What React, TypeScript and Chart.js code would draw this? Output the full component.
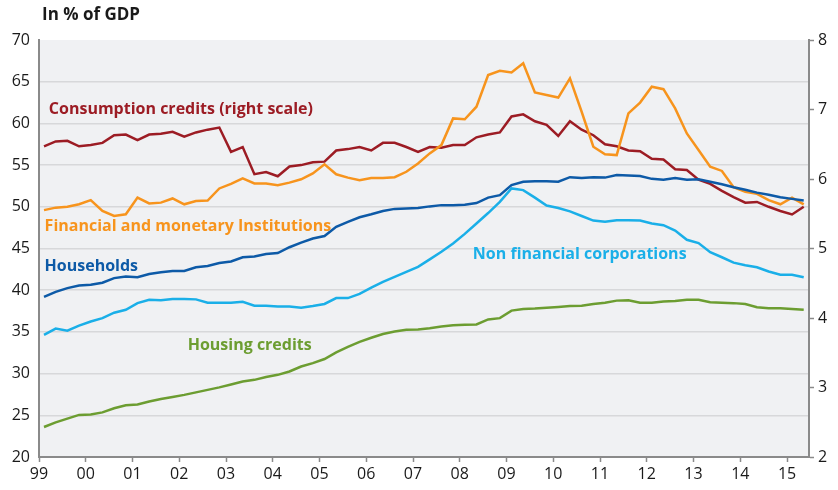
import React, { useEffect, useRef } from "react";
import { Chart, registerables } from "chart.js";

Chart.register(...registerables);

// Quarterly observations, 1999Q1 .. 2015Q2
const firstYear = 1999;
const quarterCount = 66;
const quarterLabels: string[] = [];
for (let i = 0; i < quarterCount; i++) {
  quarterLabels.push(`${firstYear + Math.floor(i / 4)}Q${(i % 4) + 1}`);
}
const quarterX = quarterLabels.map((q) => {
  const y = parseInt(q.slice(0, 4), 10);
  const k = parseInt(q.slice(5), 10) - 1;
  return y + 0.107 + 0.25 * k;
});

const yearTicks = ["99", "00", "01", "02", "03", "04", "05", "06", "07", "08", "09", "10", "11", "12", "13", "14", "15"];

// Right scale
const consumptionCredits = [
  6.47, 6.54, 6.55, 6.47, 6.49, 6.52, 6.63, 6.64, 6.56, 6.64, 6.65, 6.68, 6.61, 6.67, 6.71, 6.74,
  6.39, 6.46, 6.07, 6.10, 6.04, 6.18, 6.20, 6.24, 6.25, 6.41, 6.43, 6.46, 6.41, 6.52, 6.52, 6.46,
  6.39, 6.46, 6.45, 6.49, 6.49, 6.60, 6.64, 6.67, 6.90, 6.93, 6.83, 6.78, 6.62, 6.83, 6.71, 6.63,
  6.50, 6.47, 6.41, 6.40, 6.29, 6.28, 6.14, 6.13, 5.99, 5.93, 5.83, 5.74, 5.66, 5.67, 5.60, 5.54,
  5.49, 5.60,
];

// Left scale
const financialInstitutions = [
  49.6, 49.9, 50.0, 50.3, 50.8, 49.5, 48.9, 49.1, 51.1, 50.4, 50.5, 51.0, 50.3, 50.7, 50.75, 52.2,
  52.75, 53.4, 52.8, 52.8, 52.6, 52.9, 53.3, 54.0, 55.1, 53.9, 53.5, 53.2, 53.45, 53.45, 53.55, 54.2,
  55.2, 56.4, 57.4, 60.6, 60.5, 62.0, 65.8, 66.3, 66.1, 67.2, 63.7, 63.4, 63.1, 65.4, 61.4, 57.2,
  56.3, 56.2, 61.2, 62.5, 64.4, 64.1, 61.8, 58.8, 56.8, 54.8, 54.3, 52.35, 51.8, 51.55, 50.8, 50.3,
  51.1, 50.3,
];

const households = [
  39.2, 39.8, 40.25, 40.55, 40.65, 40.9, 41.45, 41.65, 41.55, 41.95, 42.15, 42.3, 42.3, 42.75, 42.9, 43.25,
  43.45, 43.95, 44.05, 44.35, 44.45, 45.15, 45.7, 46.2, 46.5, 47.6, 48.2, 48.75, 49.1, 49.5, 49.75, 49.8,
  49.85, 50.05, 50.2, 50.2, 50.25, 50.45, 51.1, 51.4, 52.6, 53.0, 53.05, 53.05, 53.0, 53.55, 53.45, 53.55,
  53.5, 53.8, 53.75, 53.7, 53.35, 53.25, 53.45, 53.25, 53.3, 53.0, 52.7, 52.35, 52.05, 51.7, 51.45, 51.15,
  50.95, 50.75,
];

const nonFinancialCorporations = [
  34.65, 35.4, 35.15, 35.75, 36.25, 36.65, 37.3, 37.65, 38.45, 38.85, 38.8, 38.95, 38.95, 38.9, 38.5, 38.5,
  38.5, 38.6, 38.15, 38.15, 38.05, 38.05, 37.9, 38.1, 38.35, 39.05, 39.05, 39.55, 40.3, 41.0, 41.6, 42.2,
  42.8, 43.7, 44.6, 45.6, 46.75, 48.0, 49.25, 50.6, 52.2, 52.0, 51.1, 50.15, 49.85, 49.45, 48.9, 48.35,
  48.2, 48.4, 48.4, 48.35, 48.0, 47.8, 47.15, 46.05, 45.65, 44.55, 43.95, 43.3, 43.0, 42.75, 42.25, 41.85,
  41.85, 41.55,
];

const housingCredits = [
  23.6, 24.15, 24.6, 25.05, 25.1, 25.35, 25.85, 26.2, 26.3, 26.65, 26.95, 27.2, 27.45, 27.75, 28.05, 28.35,
  28.7, 29.05, 29.25, 29.6, 29.85, 30.25, 30.85, 31.25, 31.75, 32.55, 33.2, 33.8, 34.3, 34.75, 35.05, 35.25,
  35.3, 35.45, 35.65, 35.8, 35.85, 35.9, 36.5, 36.65, 37.55, 37.75, 37.8, 37.9, 38.0, 38.1, 38.15, 38.35,
  38.5, 38.75, 38.8, 38.5, 38.5, 38.65, 38.7, 38.85, 38.85, 38.55, 38.5, 38.45, 38.35, 37.95, 37.85, 37.85,
  37.75, 37.65,
];

const seriesNames = [
  "Consumption credits (right scale)",
  "Financial and monetary Institutions",
  "Households",
  "Non financial corporations",
  "Housing credits",
];

const COLORS = {
  consumption: "#9c1c24",
  financial: "#f7941d",
  households: "#0d5aa7",
  nonfin: "#1aafe8",
  housing: "#6c9d31",
};

const FONT = "'Open Sans', 'Noto Sans', sans-serif";

const toPoints = (vals: number[]) => vals.map((v, i) => ({ x: quarterX[i], y: v }));

// label anchors (x in years, y in left-scale units)
const seriesLabels = [
  { text: seriesNames[0], x: 1999.21, y: 61.73, color: COLORS.consumption },
  { text: seriesNames[1], x: 1999.12, y: 47.65, color: COLORS.financial },
  { text: seriesNames[2], x: 1999.12, y: 42.8, color: COLORS.households },
  { text: seriesNames[3], x: 2008.28, y: 44.24, color: COLORS.nonfin },
  { text: seriesNames[4], x: 2002.18, y: 33.34, color: COLORS.housing },
];

export default function App() {
  const ref = useRef<HTMLCanvasElement | null>(null);

  useEffect(() => {
    document.body.style.margin = "0";
    const canvas = ref.current;
    if (!canvas) return;

    const bgPlugin = {
      id: "plotBg",
      beforeDraw(chart: any) {
        const { ctx, chartArea } = chart;
        ctx.save();
        ctx.fillStyle = "#f0f1f3";
        ctx.fillRect(chartArea.left, chartArea.top, chartArea.right - chartArea.left, chartArea.bottom - chartArea.top);
        ctx.restore();
      },
    };

    const textPlugin = {
      id: "texts",
      afterDatasetsDraw(chart: any) {
        const { ctx, scales } = chart;
        ctx.save();
        ctx.textBaseline = "middle";
        ctx.textAlign = "left";
        ctx.font = `bold 16px ${FONT}`;
        for (const l of seriesLabels) {
          ctx.fillStyle = l.color;
          ctx.fillText(l.text, scales.x.getPixelForValue(l.x), scales.y.getPixelForValue(l.y));
        }
        ctx.fillStyle = "#1a1a1a";
        ctx.font = `bold 17px ${FONT}`;
        ctx.fillText("In % of GDP", 42, 15);
        ctx.restore();
      },
    };

    const lineDs = (label: string, data: number[], color: string, axis: string) => ({
      label,
      data: toPoints(data),
      borderColor: color,
      backgroundColor: color,
      borderWidth: 2.5,
      pointRadius: 0,
      tension: 0,
      yAxisID: axis,
    });

    const chart = new Chart(canvas, {
      type: "line",
      data: {
        datasets: [
          lineDs(seriesNames[3], nonFinancialCorporations, COLORS.nonfin, "y"),
          lineDs(seriesNames[4], housingCredits, COLORS.housing, "y"),
          lineDs(seriesNames[2], households, COLORS.households, "y"),
          lineDs(seriesNames[1], financialInstitutions, COLORS.financial, "y"),
          lineDs(seriesNames[0], consumptionCredits, COLORS.consumption, "y2"),
        ],
      },
      options: {
        animation: false,
        responsive: false,
        maintainAspectRatio: false,
        layout: { padding: { top: 40, left: 0, right: 0, bottom: 0 } },
        plugins: { legend: { display: false }, tooltip: { enabled: false }, title: { display: false } },
        scales: {
          x: {
            type: "linear",
            min: 1999,
            max: 2015.47,
            afterFit(scale: any) {
              scale.height = 33;
            },
            afterBuildTicks(scale: any) {
              scale.ticks = yearTicks.map((_, i) => ({ value: firstYear + i }));
            },
            ticks: {
              autoSkip: false,
              maxRotation: 0,
              padding: 3,
              color: "#1a1a1a",
              font: { family: FONT, size: 16 },
              callback: (v: any) => yearTicks[Math.round(Number(v)) - firstYear] ?? "",
            },
            grid: { drawOnChartArea: false, drawTicks: true, tickLength: 5, tickColor: "#8a8a8a", tickWidth: 1.5 },
            border: { display: true, color: "#8a8a8a", width: 2 },
          },
          y: {
            position: "left",
            min: 20,
            max: 70,
            afterFit(scale: any) {
              scale.width = 39;
            },
            ticks: { stepSize: 5, padding: 9, color: "#1a1a1a", font: { family: FONT, size: 16 } },
            grid: {
              drawTicks: false,
              color: (c: any) => (c.tick && c.tick.value === 70 ? "rgba(0,0,0,0)" : "#d7d8da"),
              lineWidth: 1.5,
            },
            border: { display: true, color: "#8a8a8a", width: 2 },
          },
          y2: {
            position: "right",
            min: 2,
            max: 8,
            afterFit(scale: any) {
              scale.width = 29;
            },
            ticks: { stepSize: 1, padding: 4, color: "#1a1a1a", font: { family: FONT, size: 16 } },
            grid: { drawOnChartArea: false, drawTicks: true, tickLength: 5, tickColor: "#8a8a8a", tickWidth: 1.5 },
            border: { display: true, color: "#8a8a8a", width: 2 },
          },
        },
      } as any,
      plugins: [bgPlugin, textPlugin],
    });

    return () => chart.destroy();
  }, []);

  return (
    <div style={{ width: 838, height: 490, position: "relative" }}>
      <canvas ref={ref} width={838} height={490} style={{ display: "block" }} />
    </div>
  );
}
